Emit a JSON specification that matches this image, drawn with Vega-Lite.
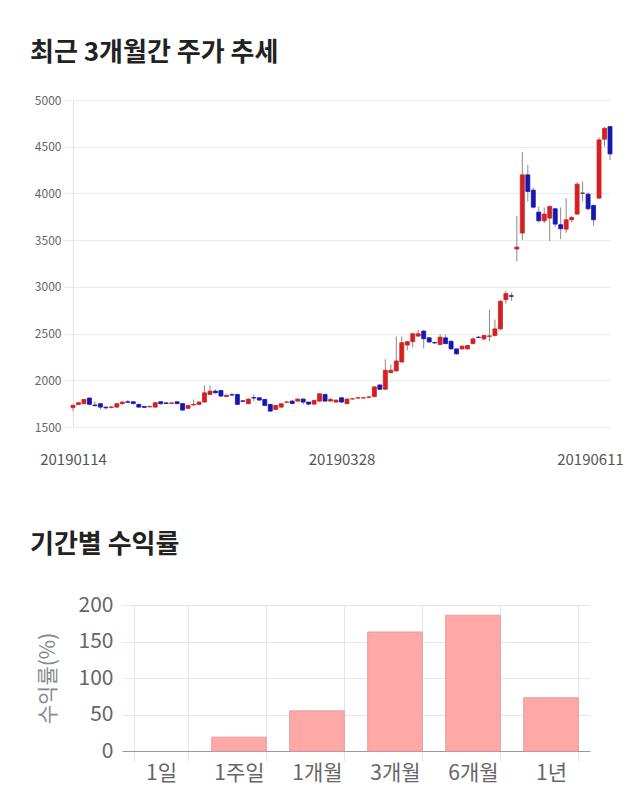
{
  "$schema": "https://vega.github.io/schema/vega-lite/v6.json",
  "background": "white",
  "padding": {"left": 30, "top": 40, "right": 0, "bottom": 12},
  "config": {"view": {"stroke": null}, "font": "Noto Sans CJK KR"},
  "spacing": 65,
  "vconcat": [
    {
      "title": {"text": "최근 3개월간 주가 추세", "anchor": "start", "frame": "group", "dx": -43, "fontSize": 26, "fontWeight": "bold", "color": "#222", "offset": 28, "font": "Noto Sans CJK KR"},
      "width": 537,
      "height": 327,
      "data": {"values": [
        {"d":"20190114","o":1708,"h":1740,"l":1672,"c":1733},
        {"d":"20190115","o":1740,"h":1765,"l":1735,"c":1760},
        {"d":"20190116","o":1750,"h":1800,"l":1745,"c":1795},
        {"d":"20190117","o":1810,"h":1815,"l":1738,"c":1742},
        {"d":"20190118","o":1735,"h":1775,"l":1720,"c":1728},
        {"d":"20190121","o":1749,"h":1755,"l":1690,"c":1713},
        {"d":"20190122","o":1712,"h":1720,"l":1688,"c":1705},
        {"d":"20190123","o":1710,"h":1725,"l":1700,"c":1715},
        {"d":"20190124","o":1713,"h":1760,"l":1705,"c":1749},
        {"d":"20190125","o":1749,"h":1775,"l":1740,"c":1767},
        {"d":"20190128","o":1770,"h":1790,"l":1755,"c":1765},
        {"d":"20190129","o":1770,"h":1775,"l":1745,"c":1750},
        {"d":"20190130","o":1742,"h":1750,"l":1708,"c":1713},
        {"d":"20190131","o":1720,"h":1725,"l":1705,"c":1710},
        {"d":"20190201","o":1715,"h":1730,"l":1712,"c":1720},
        {"d":"20190207","o":1713,"h":1765,"l":1708,"c":1760},
        {"d":"20190208","o":1770,"h":1775,"l":1740,"c":1749},
        {"d":"20190211","o":1758,"h":1765,"l":1748,"c":1752},
        {"d":"20190212","o":1752,"h":1762,"l":1748,"c":1758},
        {"d":"20190213","o":1770,"h":1772,"l":1745,"c":1750},
        {"d":"20190214","o":1750,"h":1755,"l":1675,"c":1681},
        {"d":"20190215","o":1700,"h":1735,"l":1695,"c":1731},
        {"d":"20190218","o":1735,"h":1795,"l":1730,"c":1742},
        {"d":"20190219","o":1742,"h":1775,"l":1738,"c":1767},
        {"d":"20190220","o":1767,"h":1945,"l":1760,"c":1866},
        {"d":"20190221","o":1849,"h":1945,"l":1840,"c":1884},
        {"d":"20190222","o":1884,"h":1902,"l":1860,"c":1866},
        {"d":"20190225","o":1890,"h":1895,"l":1825,"c":1831},
        {"d":"20190226","o":1826,"h":1845,"l":1820,"c":1840},
        {"d":"20190227","o":1845,"h":1866,"l":1840,"c":1842},
        {"d":"20190228","o":1849,"h":1852,"l":1735,"c":1742},
        {"d":"20190304","o":1780,"h":1790,"l":1765,"c":1775},
        {"d":"20190305","o":1749,"h":1805,"l":1745,"c":1799},
        {"d":"20190306","o":1815,"h":1849,"l":1777,"c":1810},
        {"d":"20190307","o":1813,"h":1818,"l":1780,"c":1788},
        {"d":"20190308","o":1795,"h":1800,"l":1725,"c":1731},
        {"d":"20190311","o":1742,"h":1745,"l":1665,"c":1670},
        {"d":"20190312","o":1688,"h":1735,"l":1680,"c":1731},
        {"d":"20190313","o":1713,"h":1752,"l":1705,"c":1749},
        {"d":"20190314","o":1765,"h":1780,"l":1755,"c":1767},
        {"d":"20190315","o":1777,"h":1790,"l":1745,"c":1752},
        {"d":"20190318","o":1777,"h":1805,"l":1770,"c":1799},
        {"d":"20190319","o":1799,"h":1805,"l":1745,"c":1767},
        {"d":"20190320","o":1767,"h":1770,"l":1735,"c":1745},
        {"d":"20190321","o":1745,"h":1790,"l":1740,"c":1785},
        {"d":"20190322","o":1777,"h":1860,"l":1770,"c":1856},
        {"d":"20190325","o":1849,"h":1852,"l":1770,"c":1777},
        {"d":"20190326","o":1777,"h":1810,"l":1772,"c":1795},
        {"d":"20190327","o":1767,"h":1792,"l":1760,"c":1788},
        {"d":"20190328","o":1813,"h":1818,"l":1760,"c":1767},
        {"d":"20190329","o":1749,"h":1805,"l":1745,"c":1799},
        {"d":"20190401","o":1800,"h":1806,"l":1795,"c":1802},
        {"d":"20190402","o":1810,"h":1818,"l":1805,"c":1813},
        {"d":"20190403","o":1810,"h":1818,"l":1806,"c":1813},
        {"d":"20190404","o":1818,"h":1830,"l":1812,"c":1822},
        {"d":"20190405","o":1826,"h":1935,"l":1820,"c":1929},
        {"d":"20190408","o":1950,"h":1955,"l":1895,"c":1904},
        {"d":"20190409","o":1904,"h":2225,"l":1900,"c":2107},
        {"d":"20190410","o":2082,"h":2170,"l":2075,"c":2107},
        {"d":"20190411","o":2100,"h":2470,"l":2095,"c":2207},
        {"d":"20190412","o":2196,"h":2470,"l":2190,"c":2402},
        {"d":"20190415","o":2377,"h":2420,"l":2320,"c":2413},
        {"d":"20190416","o":2413,"h":2505,"l":2350,"c":2498},
        {"d":"20190417","o":2473,"h":2540,"l":2465,"c":2498},
        {"d":"20190418","o":2527,"h":2535,"l":2340,"c":2445},
        {"d":"20190419","o":2455,"h":2460,"l":2400,"c":2410},
        {"d":"20190422","o":2405,"h":2410,"l":2390,"c":2400},
        {"d":"20190423","o":2383,"h":2495,"l":2375,"c":2461},
        {"d":"20190424","o":2454,"h":2490,"l":2385,"c":2393},
        {"d":"20190425","o":2418,"h":2425,"l":2330,"c":2336},
        {"d":"20190426","o":2336,"h":2340,"l":2275,"c":2283},
        {"d":"20190429","o":2336,"h":2372,"l":2325,"c":2365},
        {"d":"20190430","o":2336,"h":2380,"l":2330,"c":2372},
        {"d":"20190502","o":2393,"h":2460,"l":2385,"c":2443},
        {"d":"20190503","o":2461,"h":2475,"l":2450,"c":2458},
        {"d":"20190507","o":2443,"h":2490,"l":2425,"c":2479},
        {"d":"20190508","o":2470,"h":2757,"l":2420,"c":2475},
        {"d":"20190509","o":2479,"h":2650,"l":2470,"c":2550},
        {"d":"20190510","o":2550,"h":2860,"l":2535,"c":2846},
        {"d":"20190513","o":2863,"h":2960,"l":2820,"c":2928},
        {"d":"20190514","o":2905,"h":2940,"l":2850,"c":2899},
        {"d":"20190515","o":3405,"h":3761,"l":3273,"c":3426},
        {"d":"20190516","o":3576,"h":4444,"l":3500,"c":4199},
        {"d":"20190517","o":4199,"h":4306,"l":3914,"c":4021},
        {"d":"20190520","o":4035,"h":4060,"l":3840,"c":3853},
        {"d":"20190521","o":3800,"h":3860,"l":3690,"c":3707},
        {"d":"20190522","o":3707,"h":3850,"l":3682,"c":3779},
        {"d":"20190523","o":3736,"h":3870,"l":3487,"c":3860},
        {"d":"20190524","o":3836,"h":3845,"l":3640,"c":3672},
        {"d":"20190527","o":3665,"h":3850,"l":3511,"c":3622},
        {"d":"20190528","o":3618,"h":3950,"l":3580,"c":3718},
        {"d":"20190529","o":3718,"h":3760,"l":3690,"c":3743},
        {"d":"20190530","o":3779,"h":4120,"l":3770,"c":4099},
        {"d":"20190531","o":4003,"h":4128,"l":3914,"c":4003},
        {"d":"20190603","o":3992,"h":4010,"l":3820,"c":3836},
        {"d":"20190604","o":3871,"h":3880,"l":3654,"c":3718},
        {"d":"20190605","o":3950,"h":4600,"l":3940,"c":4573},
        {"d":"20190610","o":4580,"h":4710,"l":4501,"c":4697},
        {"d":"20190611","o":4715,"h":4720,"l":4359,"c":4423}
      ]},
      "encoding": {
        "x": {"field": "d", "type": "ordinal", "sort": null, "scale": {"type": "point", "padding": 0},
          "axis": {"values": ["20190114", "20190328", "20190611"], "title": null, "domain": false, "ticks": false, "grid": false, "labelAngle": 0, "labelFontSize": 15, "labelColor": "#555", "labelPadding": 25,
            "labelOffset": {"condition": {"test": "datum.value == '20190611'", "value": -20}, "value": 0}}}
      },
      "layer": [
        {
          "mark": {"type": "rule", "color": "#8a8a8a", "strokeWidth": 1},
          "encoding": {
            "y": {"field": "l", "type": "quantitative", "scale": {"domain": [1500, 5000], "nice": false, "zero": false},
              "axis": {"values": [1500, 2000, 2500, 3000, 3500, 4000, 4500, 5000], "format": "d", "title": null, "domain": true, "domainColor": "#e3e3e3", "ticks": true, "tickSize": 10, "tickColor": "#ebebeb", "grid": true, "gridColor": "#ebebeb", "labelFontSize": 12, "labelColor": "#666", "labelPadding": 2}},
            "y2": {"field": "h"}
          }
        },
        {
          "mark": {"type": "bar", "size": 4, "strokeWidth": 0.8},
          "encoding": {
            "y": {"field": "o", "type": "quantitative"},
            "y2": {"field": "c"},
            "color": {"condition": [{"test": "datum.c > datum.o", "value": "#d42020"}, {"test": "datum.c < datum.o", "value": "#1616b0"}], "value": "#333333"},
            "stroke": {"condition": [{"test": "datum.c > datum.o", "value": "#d42020"}, {"test": "datum.c < datum.o", "value": "#1616b0"}], "value": "#333333"}
          }
        }
      ]
    },
    {
      "title": {"text": "기간별 수익률", "anchor": "start", "frame": "group", "dx": -43, "fontSize": 26, "fontWeight": "bold", "color": "#222", "offset": 36, "font": "Noto Sans CJK KR"},
      "width": 517,
      "height": 146,
      "data": {"values": [
        {"p": "1일", "r": 0},
        {"p": "1주일", "r": 19},
        {"p": "1개월", "r": 55},
        {"p": "3개월", "r": 163},
        {"p": "6개월", "r": 186},
        {"p": "1년", "r": 73}
      ]},
      "mark": {"type": "bar", "fill": "#ffa8a8", "stroke": "#e89c9c", "strokeWidth": 1},
      "encoding": {
        "x": {"field": "p", "type": "nominal", "sort": null, "scale": {"paddingInner": 0.3, "paddingOuter": 0.15, "range": [49, 517]},
          "axis": {"title": null, "labelAngle": 0, "tickBand": "extent", "grid": true, "gridColor": "#e6e6e6", "ticks": true, "tickSize": 10, "tickColor": "#e6e6e6", "domainColor": "#999", "labelFontSize": 21, "labelColor": "#666", "labelPadding": 1}},
        "y": {"field": "r", "type": "quantitative", "scale": {"domain": [0, 200], "nice": false},
          "axis": {"values": [0, 50, 100, 150, 200], "offset": -49, "title": "수익률(%)", "titleFontSize": 21, "titleColor": "#888", "titleFontWeight": "normal", "titlePadding": 20, "domain": false, "ticks": false, "grid": true, "gridColor": "#e6e6e6", "labelFontSize": 21, "labelColor": "#666", "labelPadding": 9}},
        "strokeOpacity": {"condition": {"test": "datum.r > 0", "value": 1}, "value": 0}
      }
    }
  ]
}
